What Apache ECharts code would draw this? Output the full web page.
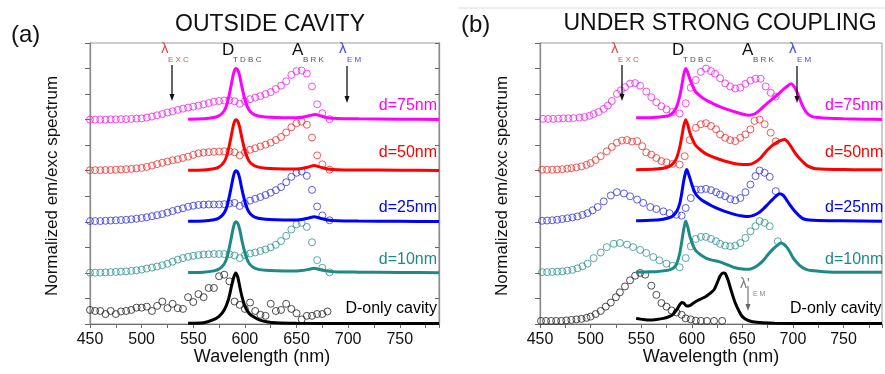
<!DOCTYPE html>
<html>
<head>
<meta charset="utf-8">
<script src="https://cdn.jsdelivr.net/npm/echarts@6/dist/echarts.min.js"></script>
<style>html,body{margin:0;padding:0;background:#fff}#c{width:885px;height:374px}</style>
</head>
<body>
<div id="c"></div>
<script>
// ---------- tick labels ----------
const xTicks = [450, 500, 550, 600, 650, 700, 750];
const X_MIN = 450, X_MAX = 788;
const Y_MIN = 0, Y_MAX = 11;

// ---------- panel (a): OUTSIDE CAVITY ----------
const a75Abs = [[450,8.0],[455,8.0],[460,8.0],[465,8.0],[470,8.01],[475,8.01],[480,8.02],[485,8.02],[490,8.03],[495,8.04],[500,8.05],[505,8.08],[510,8.12],[515,8.17],[520,8.22],[525,8.28],[530,8.33],[535,8.38],[540,8.43],[545,8.47],[550,8.51],[555,8.55],[560,8.6],[565,8.65],[570,8.7],[575,8.73],[580,8.75],[585,8.76],[590,8.72],[595,8.62],[600,8.72],[605,8.8],[610,8.86],[615,8.92],[620,9.0],[625,9.08],[630,9.2],[635,9.33],[640,9.5],[645,9.75],[650,9.9],[655,9.92],[660,9.8],[665,9.3],[670,8.6],[675,8.25],[682,8.02]];
const a75Em = [[545,8.02],[560,8.03],[570,8.08],[575,8.15],[580,8.35],[583,8.65],[586,9.2],[589,9.8],[591,10.0],[593,9.95],[595,9.7],[597,9.3],[599,8.95],[601,8.65],[604,8.38],[608,8.22],[613,8.14],[620,8.1],[630,8.08],[645,8.07],[655,8.09],[662,8.15],[668,8.2],[674,8.14],[680,8.07],[690,8.04],[710,8.03],[750,8.02],[788,8.01]];

const a50Abs = [[450,6.02],[455,6.02],[460,6.02],[465,6.03],[470,6.03],[475,6.04],[480,6.05],[485,6.06],[490,6.07],[495,6.09],[500,6.11],[505,6.15],[510,6.2],[515,6.26],[520,6.31],[525,6.36],[530,6.41],[535,6.45],[540,6.5],[545,6.55],[550,6.62],[555,6.68],[560,6.71],[565,6.73],[570,6.74],[575,6.75],[580,6.76],[585,6.76],[590,6.72],[595,6.6],[600,6.72],[605,6.82],[610,6.88],[615,6.95],[620,7.02],[625,7.1],[630,7.2],[635,7.32],[640,7.5],[645,7.7],[650,7.86],[655,7.92],[660,7.8],[665,7.3],[670,6.6],[675,6.25],[682,6.04]];
const a50Em = [[545,6.02],[560,6.03],[570,6.08],[575,6.15],[580,6.35],[583,6.65],[586,7.2],[589,7.8],[591,8.0],[593,7.95],[595,7.7],[597,7.3],[599,6.95],[601,6.65],[604,6.38],[608,6.22],[613,6.14],[620,6.1],[630,6.08],[645,6.07],[655,6.09],[662,6.15],[667,6.2],[673,6.14],[680,6.07],[690,6.04],[710,6.03],[750,6.02],[788,6.01]];

const a25Abs = [[450,4.03],[455,4.03],[460,4.03],[465,4.04],[470,4.05],[475,4.06],[480,4.07],[485,4.08],[490,4.1],[495,4.12],[500,4.15],[505,4.18],[510,4.22],[515,4.26],[520,4.3],[525,4.36],[530,4.42],[535,4.48],[540,4.53],[545,4.59],[550,4.63],[555,4.66],[560,4.67],[565,4.68],[570,4.68],[575,4.68],[580,4.69],[585,4.72],[590,4.74],[595,4.62],[600,4.72],[605,4.83],[610,4.9],[615,4.97],[620,5.05],[625,5.14],[630,5.24],[635,5.36],[640,5.55],[645,5.76],[650,5.92],[655,5.97],[660,5.8],[665,5.25],[670,4.6],[675,4.25],[682,4.06]];
const a25Em = [[545,4.02],[560,4.03],[570,4.08],[575,4.15],[580,4.35],[583,4.65],[586,5.2],[589,5.8],[591,6.0],[593,5.95],[595,5.7],[597,5.3],[599,4.95],[601,4.65],[604,4.38],[608,4.22],[613,4.14],[620,4.1],[630,4.08],[645,4.07],[655,4.09],[662,4.15],[667,4.2],[673,4.14],[680,4.07],[690,4.04],[710,4.03],[750,4.02],[788,4.01]];

const a10Abs = [[450,2.01],[455,2.01],[460,2.01],[465,2.02],[470,2.03],[475,2.04],[480,2.05],[485,2.06],[490,2.08],[495,2.1],[500,2.13],[505,2.17],[510,2.21],[515,2.25],[520,2.3],[525,2.36],[530,2.44],[535,2.52],[540,2.58],[545,2.63],[550,2.67],[555,2.7],[560,2.72],[565,2.73],[570,2.74],[575,2.74],[580,2.74],[585,2.73],[590,2.68],[595,2.58],[600,2.7],[605,2.76],[610,2.8],[615,2.86],[620,2.92],[625,3.0],[630,3.1],[635,3.25],[640,3.45],[645,3.7],[650,3.9],[655,3.96],[660,3.8],[665,3.2],[670,2.5],[675,2.2],[682,2.02]];
const a10Em = [[545,2.02],[560,2.03],[570,2.08],[575,2.15],[580,2.35],[583,2.65],[586,3.2],[589,3.8],[591,4.0],[593,3.95],[595,3.7],[597,3.3],[599,2.95],[601,2.65],[604,2.38],[608,2.22],[613,2.14],[620,2.1],[630,2.08],[645,2.07],[655,2.09],[662,2.14],[667,2.18],[673,2.13],[680,2.07],[690,2.04],[710,2.03],[750,2.02],[788,2.01]];

const a0Abs = [[450,0.55],[455,0.51],[460,0.51],[465,0.39],[470,0.51],[475,0.39],[480,0.49],[485,0.51],[490,0.55],[495,0.64],[500,0.64],[505,0.68],[510,0.51],[515,0.71],[520,0.88],[525,0.62],[530,0.79],[535,0.62],[540,0.59],[545,1.05],[550,0.86],[555,1.17],[560,1.05],[565,1.41],[570,1.41],[575,1.87],[580,1.93],[585,1.67],[590,0.88],[595,0.75],[600,0.59],[605,0.84],[610,0.51],[615,0.36],[620,0.32],[625,0.79],[630,0.51],[635,0.55],[640,0.79],[645,0.59],[650,0.42],[655,0.18],[660,0.32],[665,0.32],[670,0.39],[675,0.39],[680,0.49]];
const a0Em = [[545,0.03],[560,0.05],[569,0.16],[575,0.3],[580,0.55],[584,0.95],[587,1.47],[589,1.8],[591,2.0],[593,1.85],[595,1.47],[597,1.1],[600,0.7],[604,0.42],[608,0.29],[614,0.16],[621,0.09],[630,0.05],[650,0.03],[700,0.02],[788,0.02]];

// ---------- panel (b): UNDER STRONG COUPLING ----------
const b75Abs = [[453,8.03],[458,8.03],[463,8.03],[468,8.04],[473,8.05],[478,8.05],[483,8.06],[489,8.08],[494,8.1],[499,8.15],[503,8.22],[508,8.3],[513,8.42],[517,8.55],[521,8.73],[526,9.01],[530,9.15],[534,9.27],[539,9.41],[544,9.43],[549,9.33],[555,9.1],[560,8.88],[565,8.68],[570,8.52],[575,8.4],[581,8.3],[588,8.24],[594,8.64],[599,9.25],[604,9.55],[609,9.87],[614,10.0],[619,9.9],[623,9.8],[628,9.62],[633,9.42],[638,9.3],[643,9.22],[648,9.25],[653,9.4],[658,9.53],[663,9.6],[668,9.6],[673,9.3],[678,9.05],[683,8.9]];
const b75Em = [[545,8.07],[555,8.07],[565,8.09],[572,8.12],[578,8.17],[582,8.3],[585,8.5],[588,8.9],[590,9.3],[592,9.75],[594,10.0],[596,9.85],[598,9.6],[601,9.3],[604,9.08],[609,8.9],[614,8.77],[620,8.65],[627,8.52],[635,8.4],[643,8.3],[650,8.22],[656,8.17],[662,8.22],[668,8.4],[674,8.62],[680,8.82],[686,9.02],[691,9.2],[695,9.33],[698,9.4],[701,9.3],[704,9.08],[707,8.78],[710,8.5],[714,8.25],[719,8.12],[725,8.08],[735,8.05],[750,8.03],[770,8.02],[788,8.01]];

const b50Abs = [[452,6.04],[457,6.04],[462,6.04],[467,6.05],[472,6.06],[477,6.08],[481,6.1],[486,6.13],[491,6.17],[496,6.23],[500,6.3],[505,6.42],[510,6.57],[516,6.76],[521,6.93],[526,7.1],[531,7.18],[536,7.2],[541,7.14],[546,7.16],[551,6.96],[555,6.72],[560,6.63],[565,6.5],[570,6.38],[575,6.33],[581,6.27],[588,6.24],[593,6.57],[598,7.2],[604,7.68],[609,7.82],[614,7.86],[619,7.75],[624,7.62],[628,7.42],[633,7.29],[638,7.2],[643,7.16],[648,7.29],[653,7.42],[658,7.62],[662,7.95],[667,8.0],[672,7.82],[678,7.49],[683,7.15]];
const b50Em = [[545,6.04],[555,6.05],[565,6.07],[572,6.1],[578,6.17],[582,6.3],[585,6.5],[588,6.9],[590,7.3],[592,7.75],[594,8.0],[596,7.8],[598,7.5],[601,7.2],[604,6.98],[609,6.8],[614,6.66],[620,6.55],[627,6.45],[635,6.35],[643,6.27],[650,6.24],[656,6.24],[662,6.32],[668,6.5],[674,6.78],[680,7.0],[685,7.13],[689,7.2],[692,7.22],[695,7.12],[698,6.95],[701,6.76],[705,6.55],[709,6.38],[714,6.2],[720,6.1],[727,6.07],[740,6.05],[760,6.04],[788,6.04]];

const b25Abs = [[452,4.04],[457,4.05],[462,4.06],[467,4.08],[472,4.11],[477,4.14],[482,4.17],[487,4.21],[492,4.27],[497,4.34],[502,4.45],[507,4.58],[513,4.8],[520,5.03],[526,5.16],[533,5.11],[539,5.0],[546,4.87],[552,4.74],[559,4.58],[565,4.5],[572,4.41],[578,4.34],[585,4.28],[590,4.24],[594,4.54],[599,4.93],[604,5.26],[609,5.26],[614,5.29],[619,5.24],[624,5.16],[628,5.07],[633,5.0],[638,4.89],[643,4.84],[648,4.93],[653,5.16],[658,5.46],[663,5.79],[667,6.01],[672,5.92],[677,5.76],[683,5.2]];
const b25Em = [[545,4.04],[555,4.05],[568,4.08],[575,4.13],[581,4.22],[585,4.4],[588,4.7],[590,5.1],[592,5.6],[594,5.95],[595,6.05],[597,5.85],[599,5.6],[601,5.35],[604,5.08],[609,4.88],[614,4.75],[620,4.62],[627,4.5],[635,4.38],[643,4.28],[650,4.23],[656,4.21],[661,4.25],[666,4.35],[671,4.52],[675,4.68],[680,4.88],[684,5.03],[687,5.1],[690,5.05],[693,4.9],[697,4.66],[701,4.45],[706,4.24],[710,4.12],[716,4.07],[725,4.05],[747,4.04],[788,4.02]];

const b10Abs = [[452,2.03],[457,2.03],[462,2.04],[467,2.05],[472,2.06],[477,2.09],[482,2.12],[487,2.18],[492,2.26],[497,2.36],[503,2.58],[510,2.8],[516,3.01],[523,3.14],[529,3.17],[536,3.11],[542,3.01],[549,2.9],[555,2.78],[562,2.62],[568,2.49],[575,2.36],[581,2.28],[588,2.22],[594,2.58],[599,3.04],[604,3.33],[609,3.41],[614,3.41],[619,3.33],[624,3.24],[628,3.14],[633,3.07],[638,3.04],[643,3.07],[648,3.17],[653,3.37],[658,3.63],[663,3.83],[667,4.03],[672,3.96],[677,3.83],[685,3.24]];
const b10Em = [[545,2.03],[555,2.04],[565,2.05],[572,2.08],[578,2.12],[582,2.2],[585,2.35],[588,2.75],[590,3.2],[592,3.7],[594,4.03],[596,3.8],[598,3.45],[601,3.1],[604,2.87],[609,2.7],[614,2.58],[620,2.5],[627,2.44],[635,2.32],[643,2.2],[650,2.15],[656,2.14],[661,2.2],[666,2.32],[671,2.5],[675,2.7],[680,2.92],[684,3.06],[688,3.17],[691,3.12],[694,3.0],[697,2.82],[700,2.6],[704,2.4],[708,2.25],[713,2.14],[718,2.09],[730,2.05],[750,2.03],[788,2.03]];

const b0Abs = [[451,0.12],[456,0.12],[461,0.12],[466,0.12],[471,0.12],[476,0.14],[481,0.16],[486,0.18],[491,0.2],[496,0.24],[500,0.29],[505,0.39],[510,0.51],[515,0.68],[520,0.84],[525,1.05],[529,1.24],[534,1.47],[539,1.71],[544,1.89],[549,2.0],[554,1.93],[560,1.5],[565,1.14],[570,0.82],[575,0.68],[580,0.53],[585,0.45],[590,0.36],[594,0.22],[599,0.18],[604,0.13],[609,0.12],[615,0.12],[622,0.12],[630,0.12]];
const b0Em = [[545,0.22],[552,0.18],[559,0.16],[565,0.18],[572,0.22],[577,0.28],[581,0.36],[585,0.55],[588,0.75],[590,0.84],[592,0.82],[595,0.7],[598,0.72],[601,0.8],[604,0.88],[609,0.98],[614,1.08],[618,1.2],[622,1.34],[625,1.6],[628,1.88],[631,2.0],[633,1.98],[636,1.7],[639,1.3],[643,0.82],[647,0.48],[650,0.29],[655,0.15],[660,0.09],[670,0.05],[682,0.03],[720,0.02],[788,0.02]];

// ---------- labels ----------
const seriesNames = ['d=75nm', 'd=50nm', 'd=25nm', 'd=10nm', 'D-only cavity'];
const titles = ['OUTSIDE CAVITY', 'UNDER STRONG COUPLING'];
const panelTags = ['(a)', '(b)'];
const xTitle = 'Wavelength (nm)';
const yTitle = 'Normalized em/exc spectrum';

// ---------- styles ----------
const FONT = '"Liberation Sans", Arial, Helvetica, sans-serif';
const lineColors = ['#ff00ff', '#ff0000', '#0000ff', '#1f8a85', '#000000'];
const dotColors  = ['#f020f0', '#ee3030', '#3434e0', '#2d948f', '#222222'];

const panels = [
  { abs: [a75Abs, a50Abs, a25Abs, a10Abs, a0Abs], em: [a75Em, a50Em, a25Em, a10Em, a0Em] },
  { abs: [b75Abs, b50Abs, b25Abs, b10Abs, b0Abs], em: [b75Em, b50Em, b25Em, b10Em, b0Em] }
];

const chart = echarts.init(document.getElementById('c'), null, { renderer: 'canvas' });

const axisGray = '#8a8a8a';
function xAx(gi) {
  return {
    type: 'value', gridIndex: gi, min: X_MIN, max: X_MAX, interval: 25,
    axisLine: { show: true, lineStyle: { color: '#6a6a6a', width: 1.2 } },
    axisTick: { show: true, inside: false, length: 4, lineStyle: { color: '#6a6a6a', width: 1 } },
    axisLabel: { show: true, margin: 8, fontSize: 16, fontFamily: FONT, color: '#111',
      formatter: v => (xTicks.indexOf(v) >= 0 ? String(v) : '') , showMaxLabel: true, showMinLabel: true, hideOverlap: false },
    splitLine: { show: false }
  };
}
function yAx(gi, pos, inside) {
  return {
    type: 'value', gridIndex: gi, position: pos, min: Y_MIN, max: Y_MAX, interval: 1,
    axisLine: { show: true, onZero: false, lineStyle: { color: axisGray, width: 1.3 } },
    axisTick: { show: true, inside: inside, length: inside ? 4 : 5, lineStyle: { color: '#666', width: 1 } },
    axisLabel: { show: false }, splitLine: { show: false }
  };
}

const series = [];
panels.forEach((p, gi) => {
  const yIdx = gi === 0 ? 0 : 2;
  p.abs.forEach((d, k) => {
    series.push({
      type: 'scatter', xAxisIndex: gi, yAxisIndex: yIdx, data: d, symbol: 'circle', symbolSize: 7,
      itemStyle: { color: 'rgba(0,0,0,0)', borderColor: dotColors[k], borderWidth: 1 }, z: 2, silent: true
    });
  });
  p.em.forEach((d, k) => {
    series.push({
      type: 'line', xAxisIndex: gi, yAxisIndex: yIdx, data: d, showSymbol: false, smooth: 0.25,
      lineStyle: { color: lineColors[k], width: 3 }, z: 3, silent: true
    });
  });
});

// text helpers
function txt(x, y, s, size, color, align, valign, extra) {
  return Object.assign({ type: 'text', x: x, y: y, silent: true, z: 100,
    style: { text: s, fontSize: size, fontFamily: FONT, fill: color, align: align || 'left', verticalAlign: valign || 'middle' } }, extra || {});
}
function arrow(x, y1, y2, color, w) {
  return [
    { type: 'line', silent: true, z: 100, shape: { x1: x, y1: y1, x2: x, y2: y2 - 5 }, style: { stroke: color, lineWidth: w } },
    { type: 'polygon', silent: true, z: 100, shape: { points: [[x - 2.5, y2 - 7], [x + 2.5, y2 - 7], [x, y2]] }, style: { fill: color } }
  ];
}

const exColor = '#e04c4c', emColor = '#4b4be0', subGray = '#555';
const g = [];
// panel tags & titles
g.push(txt(11, 35, panelTags[0], 24, '#111'));
g.push(txt(461, 25, panelTags[1], 24, '#111'));
g.push(txt(270, 25, titles[0], 23, '#111', 'center'));
g.push(txt(720, 24, titles[1], 23, '#111', 'center'));
g.push({ type: 'line', silent: true, shape: { x1: 458, y1: 8, x2: 885, y2: 8 }, style: { stroke: '#dcdcdc', lineWidth: 1 } });
// axis titles
g.push(txt(262, 357, xTitle, 18, '#111', 'center'));
g.push(txt(711, 357, xTitle, 18, '#111', 'center'));
g.push(txt(52, 186, yTitle, 17, '#111', 'center', 'middle', { rotation: Math.PI / 2 }));
g.push(txt(502, 186, yTitle, 17, '#111', 'center', 'middle', { rotation: Math.PI / 2 }));
// annotations per panel
[0, 450].forEach(dx => {
  g.push(txt(161 + dx, 49, 'λ', 15, exColor));
  g.push(txt(168 + dx, 60, 'E X C', 8, exColor));
  g.push(txt(222 + dx, 50, 'D', 17, '#111'));
  g.push(txt(233 + dx, 60, 'T D B C', 8, subGray));
  g.push(txt(292 + dx, 50, 'A', 17, '#111'));
  g.push(txt(303 + dx, 60, 'B R K', 8, subGray));
  g.push(txt(339 + dx, 49, 'λ', 15, emColor));
  g.push(txt(347 + dx, 60, 'E M', 8, emColor));
  arrow(172 + dx, 65, 101, '#111', 1.3).forEach(e => g.push(e));
  arrow(347 + dx, 66, 103, '#111', 1.3).forEach(e => g.push(e));
});
// λ'EM
g.push(txt(740, 284, "λ'", 14, '#777'));
g.push(txt(753, 294, 'E M', 7, '#888'));
arrow(748, 286, 311, '#666', 1.1).forEach(e => g.push(e));
// series labels
const labY = [106, 153, 208, 260, 309];
seriesNames.forEach((s, k) => {
  g.push(txt(437, labY[k], s, 16, lineColors[k], 'right'));
  g.push(txt(k === 4 ? 790 : 825, labY[k], s, 16, lineColors[k], 'left'));
});

chart.setOption({
  animation: false,
  backgroundColor: '#ffffff',
  grid: [
    { left: 90, top: 43, width: 349, height: 281, show: true, borderColor: '#9a9a9a', borderWidth: 1, backgroundColor: 'rgba(0,0,0,0)' },
    { left: 540, top: 43, width: 347, height: 281, show: true, borderColor: '#9a9a9a', borderWidth: 1, backgroundColor: 'rgba(0,0,0,0)' }
  ],
  xAxis: [xAx(0), xAx(1)],
  yAxis: [yAx(0, 'left', false), yAx(0, 'right', true), yAx(1, 'left', false)],
  series: series,
  graphic: g
});
</script>
</body>
</html>
